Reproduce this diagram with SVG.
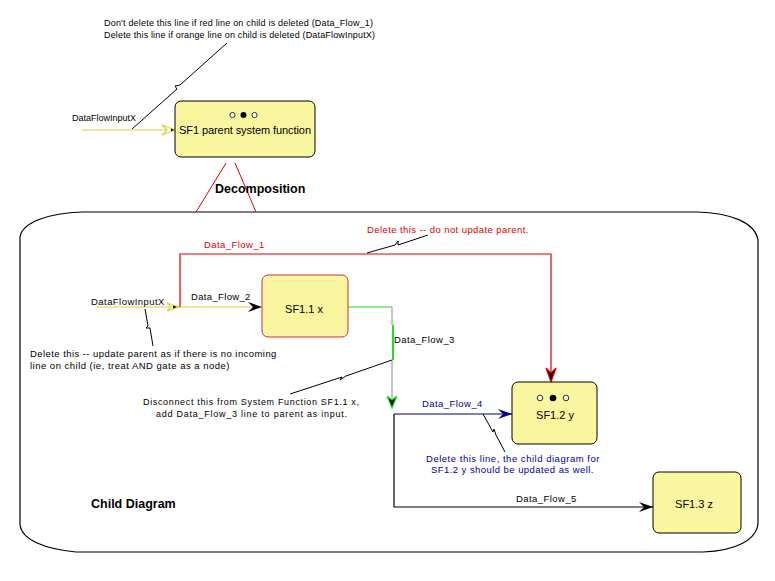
<svg xmlns="http://www.w3.org/2000/svg" width="775" height="581" viewBox="0 0 775 581">
<defs>
<style>
text{font-family:"Liberation Sans",Arial,sans-serif;fill:#000}
.s{font-size:9px}
.l{font-size:9.5px;letter-spacing:0.6px}
.n{font-size:11px}
.b{font-size:12.5px;font-weight:bold}
.node{fill:#faf6a0;stroke:#000;stroke-width:1}
.ann{fill:none;stroke:#000;stroke-width:1}
.red{fill:#e00000}
.blue{fill:#0000a0}
</style>
<marker id="ab" markerUnits="userSpaceOnUse" viewBox="-15 -6 16 12" refX="0" refY="0" markerWidth="16" markerHeight="12" orient="auto">
<path d="M-14,-5 L0,0 L-14,5 L-9,0 Z" fill="#000"/>
</marker>
<marker id="an" markerUnits="userSpaceOnUse" viewBox="-15 -6 16 12" refX="0" refY="0" markerWidth="16" markerHeight="12" orient="auto">
<path d="M-14,-5 L0,0 L-14,5 L-9,0 Z" fill="#000080"/>
</marker>
<marker id="ar" markerUnits="userSpaceOnUse" viewBox="-15 -6 16 12" refX="0" refY="0" markerWidth="16" markerHeight="12" orient="auto">
<path d="M-14,-5 L0,0 L-14,5 L-9,0 Z" fill="#000" stroke="#e00000" stroke-width="1.2"/>
</marker>
<marker id="ag" markerUnits="userSpaceOnUse" viewBox="-15 -6 16 12" refX="0" refY="0" markerWidth="16" markerHeight="12" orient="auto">
<path d="M-12,-5 L0,0 L-12,5 L-8,0 Z" fill="#000" stroke="#20e020" stroke-width="1.2"/>
</marker>
<marker id="ay" markerUnits="userSpaceOnUse" viewBox="-15 -6 16 12" refX="0" refY="0" markerWidth="16" markerHeight="12" orient="auto">
<path d="M-13,-5 L0,0 L-13,5 L-8,0 Z" fill="#fff" stroke="#e0d040" stroke-width="1.2"/>
<path d="M-4,-1.5 L-1,0 L-4,1.5 Z" fill="#000"/>
</marker>
</defs>
<rect width="775" height="581" fill="#fff"/>

<g id="container">
<path d="M82,212 L697,212 C730,213 755,222 758,240 L758,523 C757,540 735,551 703,552 L76,552 C45,549 22,540 20,525 L20,237 C22,222 50,213 82,212 Z" fill="none" stroke="#000" stroke-width="1.2"/>
<text class="b" x="91" y="508">Child Diagram</text>
</g>

<g id="connectors">
<!-- decomposition -->
<line x1="226" y1="163" x2="196" y2="212" stroke="#e00000" stroke-width="1"/>
<line x1="235" y1="163" x2="256" y2="212" stroke="#e00000" stroke-width="1"/>
<!-- parent input -->
<line x1="82" y1="130" x2="175" y2="130" stroke="#e0d040" stroke-width="1.2" marker-end="url(#ay)"/>
<!-- child input -->
<line x1="97" y1="307" x2="180" y2="307" stroke="#e0d040" stroke-width="1.2"/>
<path d="M167,303 L179,307 L167,311 L171,307 Z" fill="#fff" stroke="#e0d040" stroke-width="1.2"/>
<path d="M173,305.5 L177,307 L173,308.5 Z" fill="#000"/>
<!-- Data_Flow_2 -->
<line x1="180" y1="307" x2="262" y2="307" stroke="#e0d040" stroke-width="1.2" marker-end="url(#ab)"/>
<!-- Data_Flow_1 -->
<polyline points="180,307 180,254 551,254 551,382" fill="none" stroke="#e00000" stroke-width="1.2" marker-end="url(#ar)"/>
<!-- Data_Flow_3 -->
<polyline points="348,307 392,307" fill="none" stroke="#20e020" stroke-width="1.2"/>
<polyline points="392,307 392,325" fill="none" stroke="#909090" stroke-width="1"/>
<polyline points="393,325 393,360" fill="none" stroke="#20e020" stroke-width="2"/>
<polyline points="392,360 392,408" fill="none" stroke="#909090" stroke-width="1" marker-end="url(#ag)"/>
<!-- Data_Flow_4 -->
<line x1="394" y1="414" x2="512" y2="414" stroke="#000080" stroke-width="1.2" marker-end="url(#an)"/>
<!-- Data_Flow_5 -->
<polyline points="394,414 394,507 653,507" fill="none" stroke="#000" stroke-width="1.2" marker-end="url(#ab)"/>
<!-- annotation lines -->
<polyline class="ann" points="227,43 180,85 175,86 177,89 132,129"/>
<polyline class="ann" points="367,253 395,245 398,241 398,245 428,235"/>
<polyline class="ann" points="145,309 148,326 146,328 150,328 153,346"/>
<polyline class="ann" points="290,394 342,377 340,380 346,376 392,360"/>
<polyline class="ann" points="483,414 493,432 494,429 496,435 505,452"/>
</g>

<g id="labels">
<text class="s" x="104" y="26" textLength="269">Don't delete this line if red line on child is deleted (Data_Flow_1)</text>
<text class="s" x="104" y="38" textLength="271">Delete this line if orange line on child is deleted (DataFlowInputX)</text>
<text class="s" x="72" y="121" textLength="64">DataFlowInputX</text>
<text class="b" x="215" y="193">Decomposition</text>
<text class="l red" x="204" y="248" textLength="61">Data_Flow_1</text>
<text class="l red" x="367" y="233" textLength="162">Delete this -- do not update parent.</text>
<text class="l" x="91" y="305" textLength="74">DataFlowInputX</text>
<text class="l" x="191" y="300" textLength="60">Data_Flow_2</text>
<text class="l" x="30" y="357" textLength="247">Delete this -- update parent as if there is no incoming</text>
<text class="l" x="30" y="369" textLength="200">line on child (ie, treat AND gate as a node)</text>
<text class="l" x="394" y="343" textLength="61">Data_Flow_3</text>
<text class="s" x="143" y="405" textLength="216">Disconnect this from System Function SF1.1 x,</text>
<text class="s" x="156" y="417" textLength="191">add Data_Flow_3 line to parent as input.</text>
<text class="l blue" x="422" y="407" textLength="61">Data_Flow_4</text>
<text class="l blue" x="426" y="462" textLength="174">Delete this line, the child diagram for</text>
<text class="l blue" x="431" y="473" textLength="163">SF1.2 y should be updated as well.</text>
<text class="l" x="516" y="502" textLength="61">Data_Flow_5</text>
</g>

<g id="SF1">
<rect class="node" x="175" y="101" width="140" height="56" rx="6"/>
<circle cx="232.5" cy="115" r="2.6" fill="#fff" stroke="#000" stroke-width="0.8"/>
<circle cx="243.5" cy="115" r="3" fill="#000"/>
<circle cx="254.5" cy="115" r="2.6" fill="#fff" stroke="#000" stroke-width="0.8"/>
<text class="n" x="245" y="134" text-anchor="middle" textLength="132">SF1 parent system function</text>
</g>

<g id="SF1.1">
<rect class="node" x="262" y="275" width="86" height="62" rx="6" style="stroke:#d03030"/>
<text class="n" x="304" y="313" text-anchor="middle">SF1.1 x</text>
</g>

<g id="SF1.2">
<rect class="node" x="512" y="382" width="85" height="62" rx="6"/>
<circle cx="540" cy="398" r="2.8" fill="#fff" stroke="#000" stroke-width="0.8"/>
<circle cx="553" cy="398" r="3.3" fill="#000"/>
<circle cx="566" cy="398" r="2.8" fill="#fff" stroke="#000" stroke-width="0.8"/>
<text class="n" x="555" y="419" text-anchor="middle">SF1.2 y</text>
</g>

<g id="SF1.3">
<rect class="node" x="653" y="472" width="88" height="61" rx="6"/>
<text class="n" x="694" y="508" text-anchor="middle">SF1.3 z</text>
</g>
</svg>
